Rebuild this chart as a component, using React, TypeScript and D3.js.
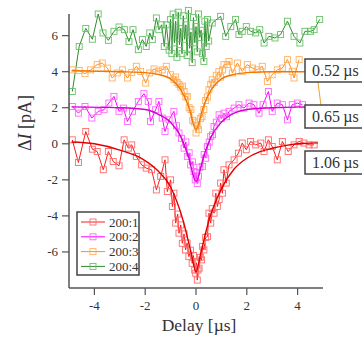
import * as d3 from 'd3'

// data: [delay µs, ΔI pA]
const red: [number, number][] = [
  [-4.87, 0.22], [-4.63, -1.04], [-4.34, 0.68], [-4.08, -0.3], [-3.89, -0.43], [-3.65, -1.44], [-3.45, -0.43],
  [-3.26, -0.98], [-3.03, -1.22], [-2.83, 0.22], [-2.66, -0.24], [-2.53, -0.06], [-2.35, -0.7], [-2.14, -1.17],
  [-1.96, -1.35], [-1.75, -1.44], [-1.56, -2.56], [-1.39, -1.81], [-1.22, -0.89], [-1.13, -2.65], [-1.0, -2.0],
  [-0.93, -3.48], [-0.87, -2.74], [-0.8, -4.4], [-0.72, -3.9], [-0.67, -4.96], [-0.6, -4.5], [-0.54, -5.52],
  [-0.47, -5.0], [-0.41, -5.89], [-0.35, -5.5], [-0.28, -6.26], [-0.22, -5.9], [-0.15, -6.63], [-0.1, -6.2],
  [-0.05, -7.0], [-0.01, -7.18], [0.02, -6.6], [0.05, -7.56], [0.08, -7.0], [0.12, -6.9], [0.17, -6.3],
  [0.22, -6.44], [0.26, -5.7], [0.31, -5.89], [0.38, -5.2], [0.45, -5.15], [0.51, -3.85], [0.58, -4.4],
  [0.64, -3.6], [0.71, -3.85], [0.78, -2.74], [0.84, -3.48], [0.91, -3.1], [0.97, -2.18], [1.04, -2.74],
  [1.1, -1.44], [1.19, -2.18], [1.3, -1.17], [1.5, -0.89], [1.67, -0.52], [1.82, 0.04], [1.98, -0.33],
  [2.15, 0.13], [2.35, -0.06], [2.55, 0.04], [2.68, -0.43], [2.85, 0.22], [3.0, -0.15], [3.2, -0.89],
  [3.4, 0.13], [3.63, -0.43], [3.86, -0.06], [4.06, 0.13], [4.25, 0.04], [4.45, -0.06], [4.65, -0.06],
]
const magenta: [number, number][] = [
  [-4.87, 2.07], [-4.63, 1.7], [-4.37, 2.07], [-4.1, 1.43], [-3.85, 1.8], [-3.62, 1.89], [-3.43, 2.26],
  [-3.23, 2.63], [-3.03, 1.8], [-2.86, 1.98], [-2.7, 1.24], [-2.5, 1.8], [-2.27, 2.35], [-2.05, 2.78],
  [-1.88, 2.35], [-1.79, 1.24], [-1.59, 1.89], [-1.46, 2.35], [-1.33, 1.43], [-1.22, 0.68], [-1.06, 1.33],
  [-0.87, 1.8], [-0.77, 1.0], [-0.67, 0.6], [-0.57, 0.3], [-0.47, -0.24], [-0.4, 0.1], [-0.34, -0.7],
  [-0.27, -0.5], [-0.21, -1.17], [-0.14, -1.0], [-0.08, -1.54], [-0.03, -2.0], [0.0, -1.6], [0.05, -2.2],
  [0.1, -1.8], [0.15, -1.3], [0.25, -1.26], [0.32, -0.6], [0.38, -0.8], [0.45, -0.15], [0.52, 0.1],
  [0.58, 0.41], [0.65, 0.5], [0.71, 0.96], [0.8, 1.2], [0.91, 1.61], [1.0, 1.4], [1.1, 1.7], [1.2, 1.5],
  [1.3, 1.8], [1.5, 1.98], [1.69, 2.17], [1.89, 1.98], [2.09, 2.26], [2.28, 2.17], [2.48, 1.7], [2.64, 2.17],
  [2.85, 2.9], [3.0, 1.8], [3.2, 2.26], [3.4, 2.17], [3.6, 1.33], [3.79, 2.17], [3.99, 2.26], [4.19, 2.17],
]
const orange: [number, number][] = [
  [-4.87, 4.1], [-4.6, 4.07], [-4.37, 3.89], [-4.15, 4.1], [-3.89, 4.39], [-3.69, 4.48], [-3.49, 4.2],
  [-3.3, 3.65], [-3.1, 3.93], [-2.9, 4.1], [-2.7, 3.65], [-2.53, 3.96], [-2.35, 4.3], [-2.18, 4.02],
  [-1.98, 3.37], [-1.82, 3.93], [-1.65, 4.15], [-1.48, 4.02], [-1.33, 4.1], [-1.17, 4.3], [-1.0, 3.83],
  [-0.87, 3.56], [-0.8, 3.7], [-0.74, 3.4], [-0.67, 3.3], [-0.6, 3.15], [-0.53, 3.2], [-0.47, 2.9],
  [-0.4, 2.6], [-0.34, 2.63], [-0.27, 2.0], [-0.2, 1.9], [-0.13, 1.3], [-0.07, 1.2], [0.0, 0.6], [0.05, 1.0],
  [0.1, 0.8], [0.17, 1.4], [0.24, 1.5], [0.31, 1.9], [0.38, 2.4], [0.45, 2.6], [0.51, 3.0], [0.58, 3.3],
  [0.64, 3.55], [0.72, 3.4], [0.8, 3.8], [0.9, 4.0], [0.97, 3.7], [1.04, 4.1], [1.1, 4.39], [1.23, 4.39],
  [1.3, 4.57], [1.43, 3.93], [1.63, 4.48], [1.82, 4.02], [2.02, 4.39], [2.22, 4.2], [2.41, 4.1], [2.61, 4.3],
  [2.81, 3.46], [3.0, 3.83], [3.2, 4.1], [3.4, 4.2], [3.6, 4.67], [3.79, 4.02], [3.86, 3.65], [4.06, 4.67],
]
const green: [number, number][] = [
  [-4.87, 2.9], [-4.6, 5.4], [-4.34, 6.4], [-4.08, 5.8], [-3.85, 7.2], [-3.66, 6.15], [-3.45, 5.74],
  [-3.23, 6.24], [-3.03, 6.48], [-2.82, 6.33], [-2.64, 5.68], [-2.48, 6.33], [-2.27, 5.22], [-2.11, 5.78],
  [-1.96, 5.4], [-1.82, 6.15], [-1.72, 5.78], [-1.56, 6.98], [-1.46, 6.33], [-1.35, 6.6], [-1.25, 5.4],
  [-1.17, 6.6], [-1.06, 5.2], [-1.0, 6.9], [-0.95, 5.0], [-0.9, 7.2], [-0.85, 5.6], [-0.8, 6.8], [-0.75, 4.8],
  [-0.7, 7.3], [-0.65, 5.5], [-0.6, 6.4], [-0.55, 5.0], [-0.5, 7.1], [-0.45, 5.8], [-0.4, 6.6], [-0.35, 4.9],
  [-0.3, 7.4], [-0.25, 5.3], [-0.2, 6.2], [-0.15, 4.5], [-0.1, 7.0], [-0.05, 5.6], [0.0, 6.5], [0.05, 5.1],
  [0.1, 7.2], [0.15, 5.9], [0.2, 6.3], [0.25, 5.0], [0.31, 4.57], [0.35, 6.8], [0.4, 5.4], [0.45, 6.9],
  [0.5, 5.7], [0.64, 6.7], [0.97, 7.07], [1.17, 5.96], [1.37, 6.5], [1.56, 6.9], [1.69, 6.06], [1.82, 6.24],
  [1.98, 6.5], [2.15, 6.24], [2.35, 6.15], [2.51, 6.33], [2.68, 5.59], [2.87, 5.96], [3.11, 5.87],
  [3.33, 6.06], [3.6, 6.8], [3.86, 5.96], [4.09, 5.59], [4.29, 6.24], [4.51, 6.24], [4.65, 6.33], [4.87, 6.9],
]

// fitted curves, also
const redFit: [number, number][] = [
  [-4.9, 0.1], [-4, 0], [-3, -0.35], [-2.1, -0.85], [-1.5, -1.5], [-1, -2.4], [-0.5, -4.3], [-0.2, -6],
  [0, -7.1], [0.2, -6], [0.5, -4.3], [1, -2.5], [1.5, -1.4], [2, -0.8], [2.5, -0.45], [3, -0.25],
  [3.5, -0.1], [4, 0], [4.8, 0.05],
]
const magentaFit: [number, number][] = [
  [-4.9, 2.05], [-3, 2.0], [-2, 1.9], [-1.5, 1.65], [-1, 1.2], [-0.6, 0.4], [-0.3, -0.7], [0, -2.1],
  [0.3, -0.7], [0.6, 0.4], [1, 1.2], [1.5, 1.7], [2, 1.9], [3, 2.0], [4.3, 2.05],
]
const orangeFit: [number, number][] = [
  [-4.9, 4.05], [-3, 4.0], [-2, 3.95], [-1.5, 3.85], [-1, 3.6], [-0.6, 3.0], [-0.3, 2.1], [0, 0.8],
  [0.3, 2.1], [0.6, 3.0], [1, 3.6], [1.5, 3.85], [2, 3.95], [3, 4.0], [4.3, 4.0],
]

const xTicks = [-4, -2, 0, 2, 4]
const yTicks = [-6, -4, -2, 0, 2, 4, 6]
const legendLabels = ['200:1', '200:2', '200:3', '200:4']
const tauLabels = ['0.52\u2009\u00b5s', '0.65\u2009\u00b5s', '1.06\u2009\u00b5s']

const W = 362
const H = 338
const font = "'Liberation Serif', 'DejaVu Serif', Times, serif"

export default function App() {
  const x = d3.scaleLinear().domain([-5, 5]).range([69, 323])
  const y = d3.scaleLinear().domain([-8, 7.2]).range([288, 14])
  const line = d3.line<[number, number]>().x(d => x(d[0])).y(d => y(d[1]))
  const fitLine = d3.line<[number, number]>().x(d => x(d[0])).y(d => y(d[1])).curve(d3.curveMonotoneX)

  const series = [
    { data: red, color: '#ff1a1a', mark: '#ff6a6a', fit: redFit, fitColor: '#e00000' },
    { data: magenta, color: '#ff00ff', mark: '#ff66ff', fit: magentaFit, fitColor: '#d400d4' },
    { data: orange, color: '#ff8c1a', mark: '#ffb060', fit: orangeFit, fitColor: '#f07800' },
    { data: green, color: '#2e8b2e', mark: '#66c266', fit: null, fitColor: '' },
  ]
  const ms = 6

  // draw order: green at back, red on top
  const drawOrder = [3, 2, 1, 0]
  const txt = { fontFamily: font }

  return (
    <svg width={W} height={H} style={{ position: 'absolute', left: 0, top: 0, background: '#fff', fontFamily: font }}>
      {drawOrder.map(i => {
        const s = series[i]
        return (
          <g key={i}>
            <path d={line(s.data) ?? ''} fill="none" stroke={s.color} strokeWidth={1} />
            {s.data.map((d, j) => (
              <rect key={j} x={x(d[0]) - ms / 2} y={y(d[1]) - ms / 2} width={ms} height={ms}
                fill="none" stroke={s.mark} strokeWidth={0.9} />
            ))}
            {s.fit && <path d={fitLine(s.fit) ?? ''} fill="none" stroke={s.fitColor} strokeWidth={1.4} />}
          </g>
        )
      })}

      {/* axes */}
      <line x1={x(-5)} x2={x(-5)} y1={y(7.2)} y2={y(-8)} stroke="#555" strokeWidth={1.5} />
      <line x1={x(-5)} x2={x(5)} y1={y(-8)} y2={y(-8)} stroke="#555" strokeWidth={1.5} />
      {yTicks.map(t => (
        <g key={t}>
          <line x1={x(-5) - 7} x2={x(-5)} y1={y(t)} y2={y(t)} stroke="#555" strokeWidth={1.2} />
          <text style={txt} x={x(-5) - 11} y={y(t) + 4.5} textAnchor="end" fontSize={13} fill="#333">{t}</text>
        </g>
      ))}
      {xTicks.map(t => (
        <g key={t}>
          <line x1={x(t)} x2={x(t)} y1={y(-8)} y2={y(-8) + 7} stroke="#555" strokeWidth={1.2} />
          <text style={txt} x={x(t)} y={y(-8) + 22} textAnchor="middle" fontSize={13} fill="#333">{t}</text>
        </g>
      ))}
      <text style={txt} x={x(0) + 3} y={331} textAnchor="middle" fontSize={17.5} fill="#333">Delay [µs]</text>
      <text style={txt} transform={`translate(31,${123}) rotate(-90)`} textAnchor="middle" fontSize={18} fill="#333">
        Δ<tspan fontStyle="italic">I</tspan> [pA]
      </text>

      {/* legend */}
      <rect x={77} y={212} width={62} height={63} fill="#fff" stroke="#444" strokeWidth={1.5} />
      {legendLabels.map((l, i) => {
        const ly = 222 + i * 14.8
        return (
          <g key={l}>
            <line x1={81} x2={105} y1={ly} y2={ly} stroke={series[i].color} strokeWidth={1} />
            <rect x={93 - ms / 2} y={ly - ms / 2} width={ms} height={ms} fill="none" stroke={series[i].mark} strokeWidth={0.9} />
            <text style={txt} x={109} y={ly + 4.5} fontSize={13} fill="#333">{l}</text>
          </g>
        )
      })}

      {/* time-constant labels */}
      <line x1={318} y1={82} x2={321} y2={106} stroke="#f0a030" strokeWidth={1} />
      {tauLabels.map((l, i) => {
        const by = 59 + i * 46
        return (
          <g key={l}>
            <rect x={305} y={by} width={70} height={23} fill="#fff" stroke="#444" strokeWidth={1.5} />
            <text style={txt} x={312} y={by + 17} fontSize={16} fill="#333">{l}</text>
          </g>
        )
      })}
    </svg>
  )
}
